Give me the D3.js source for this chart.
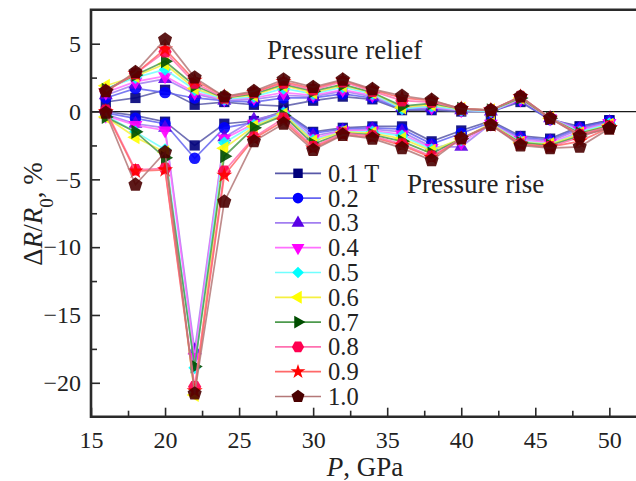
<!DOCTYPE html>
<html>
<head>
<meta charset="utf-8">
<script src="https://cdn.jsdelivr.net/npm/d3@7/dist/d3.min.js"></script>
<style>
  html, body { margin: 0; padding: 0; background: #fff; }
  svg { display: block; }
  svg text { font-family: "Liberation Serif", Tinos, "Times New Roman", "DejaVu Serif", serif !important; fill: #222; }
</style>
</head>
<body>
<svg id="chart" width="636" height="481"></svg>
<script>
// ---------- data ----------
const pressure = [16, 18, 20, 22, 24, 26, 28, 30, 32, 34, 36, 38, 40, 42, 44, 46, 48, 50];
const fields = ["0.1 T", "0.2", "0.3", "0.4", "0.5", "0.6", "0.7", "0.8", "0.9", "1.0"];

// pressure relief branch (upper)
const relief = [
  [0.7, 1.0, 1.6, 0.5, 0.7, 0.5, 0.4, 0.8, 1.1, 0.9, 0.1, 0.1, 0.0, 0.0, 0.7, -0.6, -1.1, -0.65],
  [1.0, 1.7, 1.4, 1.0, 0.8, 0.7, 1.0, 1.0, 1.3, 1.0, 0.2, 0.2, 0.1, 0.0, 0.8, -0.6, -1.2, -0.7],
  [1.2, 2.0, 2.4, 1.3, 0.8, 0.9, 1.2, 1.1, 1.5, 1.1, 0.3, 0.3, 0.1, 0.0, 0.9, -0.5, -1.3, -0.8],
  [1.4, 2.2, 2.6, 1.4, 0.9, 1.0, 1.4, 1.2, 1.6, 1.2, 0.3, 0.3, 0.1, 0.0, 0.9, -0.5, -1.4, -0.85],
  [1.7, 2.5, 3.1, 1.6, 0.9, 1.1, 1.7, 1.3, 1.8, 1.3, 0.2, 0.4, 0.1, 0.0, 1.0, -0.5, -1.5, -0.9],
  [1.9, 2.6, 3.5, 1.7, 1.0, 1.2, 1.9, 1.4, 1.9, 1.4, 0.3, 0.5, 0.2, 0.1, 1.0, -0.5, -1.6, -1.0],
  [1.6, 2.7, 3.7, 1.9, 1.0, 1.3, 2.0, 1.5, 2.0, 1.4, 0.4, 0.6, 0.2, 0.1, 1.0, -0.5, -1.6, -1.05],
  [1.5, 2.8, 4.4, 2.1, 1.0, 1.4, 2.1, 1.6, 2.2, 1.5, 0.8, 0.7, 0.2, 0.1, 1.1, -0.5, -1.7, -1.1],
  [1.5, 2.8, 4.6, 2.3, 1.1, 1.4, 2.2, 1.7, 2.3, 1.6, 1.0, 0.8, 0.2, 0.1, 1.1, -0.5, -1.75, -1.2],
  [1.5, 2.9, 5.3, 2.5, 1.1, 1.5, 2.35, 1.8, 2.35, 1.65, 1.15, 0.85, 0.2, 0.1, 1.1, -0.5, -1.8, -1.25]
];

// pressure rise branch (lower)
const rise = [
  [0.0, -0.3, -0.75, -2.5, -0.9, -0.7, 0.0, -1.5, -1.2, -1.1, -1.1, -2.2, -1.4, -0.7, -1.8, -2.0, -1.1, -0.65],
  [-0.1, -0.5, -0.9, -3.45, -1.2, -0.8, -0.1, -1.6, -1.3, -1.2, -1.3, -2.4, -1.6, -0.8, -1.9, -2.1, -1.2, -0.7],
  [-0.2, -0.9, -1.2, -17.6, -1.9, -0.6, -0.1, -1.8, -1.4, -1.3, -1.5, -2.6, -2.6, -0.9, -2.0, -2.2, -1.3, -0.8],
  [-0.3, -1.0, -1.4, -18.1, -2.0, -0.9, -0.2, -2.0, -1.4, -1.4, -1.7, -2.7, -2.3, -0.9, -2.1, -2.3, -1.5, -0.85],
  [-0.3, -1.5, -2.8, -18.9, -2.3, -1.0, -0.1, -2.1, -1.5, -1.5, -1.8, -2.8, -2.1, -0.9, -2.2, -2.4, -1.6, -0.9],
  [-0.4, -1.9, -3.0, -20.9, -2.7, -1.1, -0.2, -2.2, -1.5, -1.6, -2.0, -2.9, -2.0, -0.9, -2.3, -2.4, -1.7, -1.0],
  [-0.4, -1.5, -3.4, -18.8, -3.3, -1.2, -0.3, -2.4, -1.6, -1.7, -2.2, -3.1, -2.0, -1.0, -2.3, -2.5, -1.8, -1.05],
  [0.1, -4.3, -4.2, -20.3, -4.4, -1.9, -0.5, -2.6, -1.6, -1.8, -2.4, -3.3, -2.0, -1.0, -2.4, -2.6, -1.9, -1.1],
  [0.0, -4.4, -4.3, -20.6, -4.7, -2.0, -0.7, -2.7, -1.7, -1.9, -2.5, -3.4, -2.0, -1.0, -2.4, -2.6, -2.2, -1.2],
  [-0.1, -5.4, -3.0, -20.8, -6.65, -2.2, -0.9, -2.84, -1.73, -2.0, -2.7, -3.6, -1.98, -1.0, -2.5, -2.7, -2.6, -1.25]
];

const xMajorTicks = [15, 20, 25, 30, 35, 40, 45, 50];
const xMinorTicks = [17.5, 22.5, 27.5, 32.5, 37.5, 42.5, 47.5];
const yMajorTicks = [5, 0, -5, -10, -15, -20];
const yMinorTicks = [2.5, -2.5, -7.5, -12.5, -17.5];

// ---------- styles ----------
const FONT = '"Liberation Serif", Tinos, "Times New Roman", "DejaVu Serif", serif';
const markerColors = ["#00007a", "#0000ff", "#5a00e6", "#ff00ff", "#00ffff", "#ffff00", "#004d00", "#ff0050", "#ff0000", "#4a0000"];
const lineColors   = ["#5858a8", "#6464f0", "#a27ef0", "#ff70ff", "#70ffff", "#f5f040", "#4c9a4c", "#ff70b0", "#ff6868", "#b47878"];

// custom polygon symbols
function polygon(n, rot) {
  const k = (n / 2) * Math.sin(2 * Math.PI / n);
  return {
    draw(ctx, size) {
      const r = Math.sqrt(size / k);
      for (let i = 0; i < n; i++) {
        const a = rot + i * 2 * Math.PI / n;
        const px = r * Math.sin(a), py = -r * Math.cos(a);
        if (i === 0) ctx.moveTo(px, py); else ctx.lineTo(px, py);
      }
      ctx.closePath();
    }
  };
}
const shapes = [
  { type: d3.symbolSquare, size: 105, rot: 0 },
  { type: d3.symbolCircle, size: 105, rot: 0 },
  { type: d3.symbolTriangle, size: 85, rot: 0 },
  { type: d3.symbolTriangle, size: 85, rot: 180 },
  { type: d3.symbolSquare, size: 80, rot: 45 },
  { type: d3.symbolTriangle, size: 85, rot: -90 },
  { type: d3.symbolTriangle, size: 85, rot: 90 },
  { type: polygon(6, Math.PI / 6), size: 115, rot: 0 },
  { type: d3.symbolStar, size: 80, rot: 0 },
  { type: polygon(5, 0), size: 130, rot: 0 }
];

// ---------- layout ----------
const svg = d3.select("#chart").attr("font-family", FONT);
const mLeft = 91, mBottom = 416.7, mTop = 9.8;
const x = d3.scaleLinear().domain([15, 52]).range([mLeft, mLeft + 37 * 14.81]);
const y = d3.scaleLinear().domain([-22.5, 7.5]).range([mBottom, mTop]);
const W = 640;

// zero line
svg.append("line")
  .attr("x1", mLeft).attr("x2", W)
  .attr("y1", y(0)).attr("y2", y(0))
  .attr("stroke", "#1a1a1a").attr("stroke-width", 1.3);

// axes
const axisFont = 24;
const gx = svg.append("g").attr("transform", `translate(0,${mBottom})`);
gx.call(d3.axisBottom(x).tickValues(xMajorTicks).tickSizeInner(-9).tickSizeOuter(0).tickPadding(14).tickFormat(d3.format("d")));
gx.append("g").call(d3.axisBottom(x).tickValues(xMinorTicks).tickSizeInner(-6).tickSizeOuter(0).tickFormat(""));
const gy = svg.append("g").attr("transform", `translate(${mLeft},0)`);
gy.call(d3.axisLeft(y).tickValues(yMajorTicks).tickSizeInner(-9).tickSizeOuter(0).tickPadding(10).tickFormat(d3.format("d")));
gy.append("g").call(d3.axisLeft(y).tickValues(yMinorTicks).tickSizeInner(-6).tickSizeOuter(0).tickFormat(""));
svg.selectAll("g").attr("font-family", FONT);
svg.selectAll(".domain").remove();
svg.selectAll(".tick line").attr("stroke", "#2a2a2a").attr("stroke-width", 1.6);
svg.selectAll(".tick text").style("font-size", axisFont + "px").style("font-family", FONT).attr("fill", "#222");

// frame (left, top, bottom)
svg.append("path")
  .attr("d", `M${W},${mTop}H${mLeft}V${mBottom}H${W}`)
  .attr("fill", "none").attr("stroke", "#2a2a2a").attr("stroke-width", 2.6);

// series
const line = d3.line().x(d => x(d[0])).y(d => y(d[1]));
const symbolGen = d3.symbol();
const plot = svg.append("g");
fields.forEach((f, i) => {
  const g = plot.append("g");
  [relief[i], rise[i]].forEach(vals => {
    const pts = pressure.map((p, j) => [p, vals[j]]);
    g.append("path").attr("d", line(pts))
      .attr("fill", "none").attr("stroke", lineColors[i])
      .attr("stroke-width", 1.7).attr("stroke-opacity", 0.85);
  });
  [relief[i], rise[i]].forEach(vals => {
    g.selectAll(null).data(pressure.map((p, j) => [p, vals[j]])).join("path")
      .attr("d", symbolGen.type(shapes[i].type).size(shapes[i].size)())
      .attr("transform", d => `translate(${x(d[0])},${y(d[1])}) rotate(${shapes[i].rot})`)
      .attr("fill", markerColors[i]).attr("fill-opacity", 0.9);
  });
});

// annotations
svg.append("text").attr("x", 267).attr("y", 59).style("font-size", "27px").style("font-family", FONT).text("Pressure relief");
svg.append("text").attr("x", 407).attr("y", 193).style("font-size", "27px").style("font-family", FONT).text("Pressure rise");

// legend
const legend = svg.append("g");
fields.forEach((f, i) => {
  const ly = 173.3 + i * 24.8;
  legend.append("line").attr("x1", 275).attr("x2", 321).attr("y1", ly).attr("y2", ly)
    .attr("stroke", lineColors[i]).attr("stroke-width", 1.7);
  legend.append("path")
    .attr("d", symbolGen.type(shapes[i].type).size(shapes[i].size * 0.85)())
    .attr("transform", `translate(298,${ly}) rotate(${shapes[i].rot})`)
    .attr("fill", markerColors[i]);
  legend.append("text").attr("x", 328).attr("y", ly + 8.5).style("font-size", "24.5px").style("font-family", FONT).text(f);
});

// axis titles
const xt = svg.append("text").attr("x", 365).attr("y", 476).attr("text-anchor", "middle").style("font-size", "27px").style("font-family", FONT);
xt.append("tspan").style("font-style", "italic").text("P");
xt.append("tspan").text(", GPa");

const yt = svg.append("text").attr("transform", "translate(42,214) rotate(-90)").attr("text-anchor", "middle").style("font-size", "27px").style("font-family", FONT);
yt.append("tspan").text("Δ");
yt.append("tspan").style("font-style", "italic").text("R");
yt.append("tspan").text("/");
yt.append("tspan").style("font-style", "italic").text("R");
yt.append("tspan").attr("baseline-shift", "sub").style("font-size", "19px").text("0");
yt.append("tspan").text(", %");
</script>
</body>
</html>
